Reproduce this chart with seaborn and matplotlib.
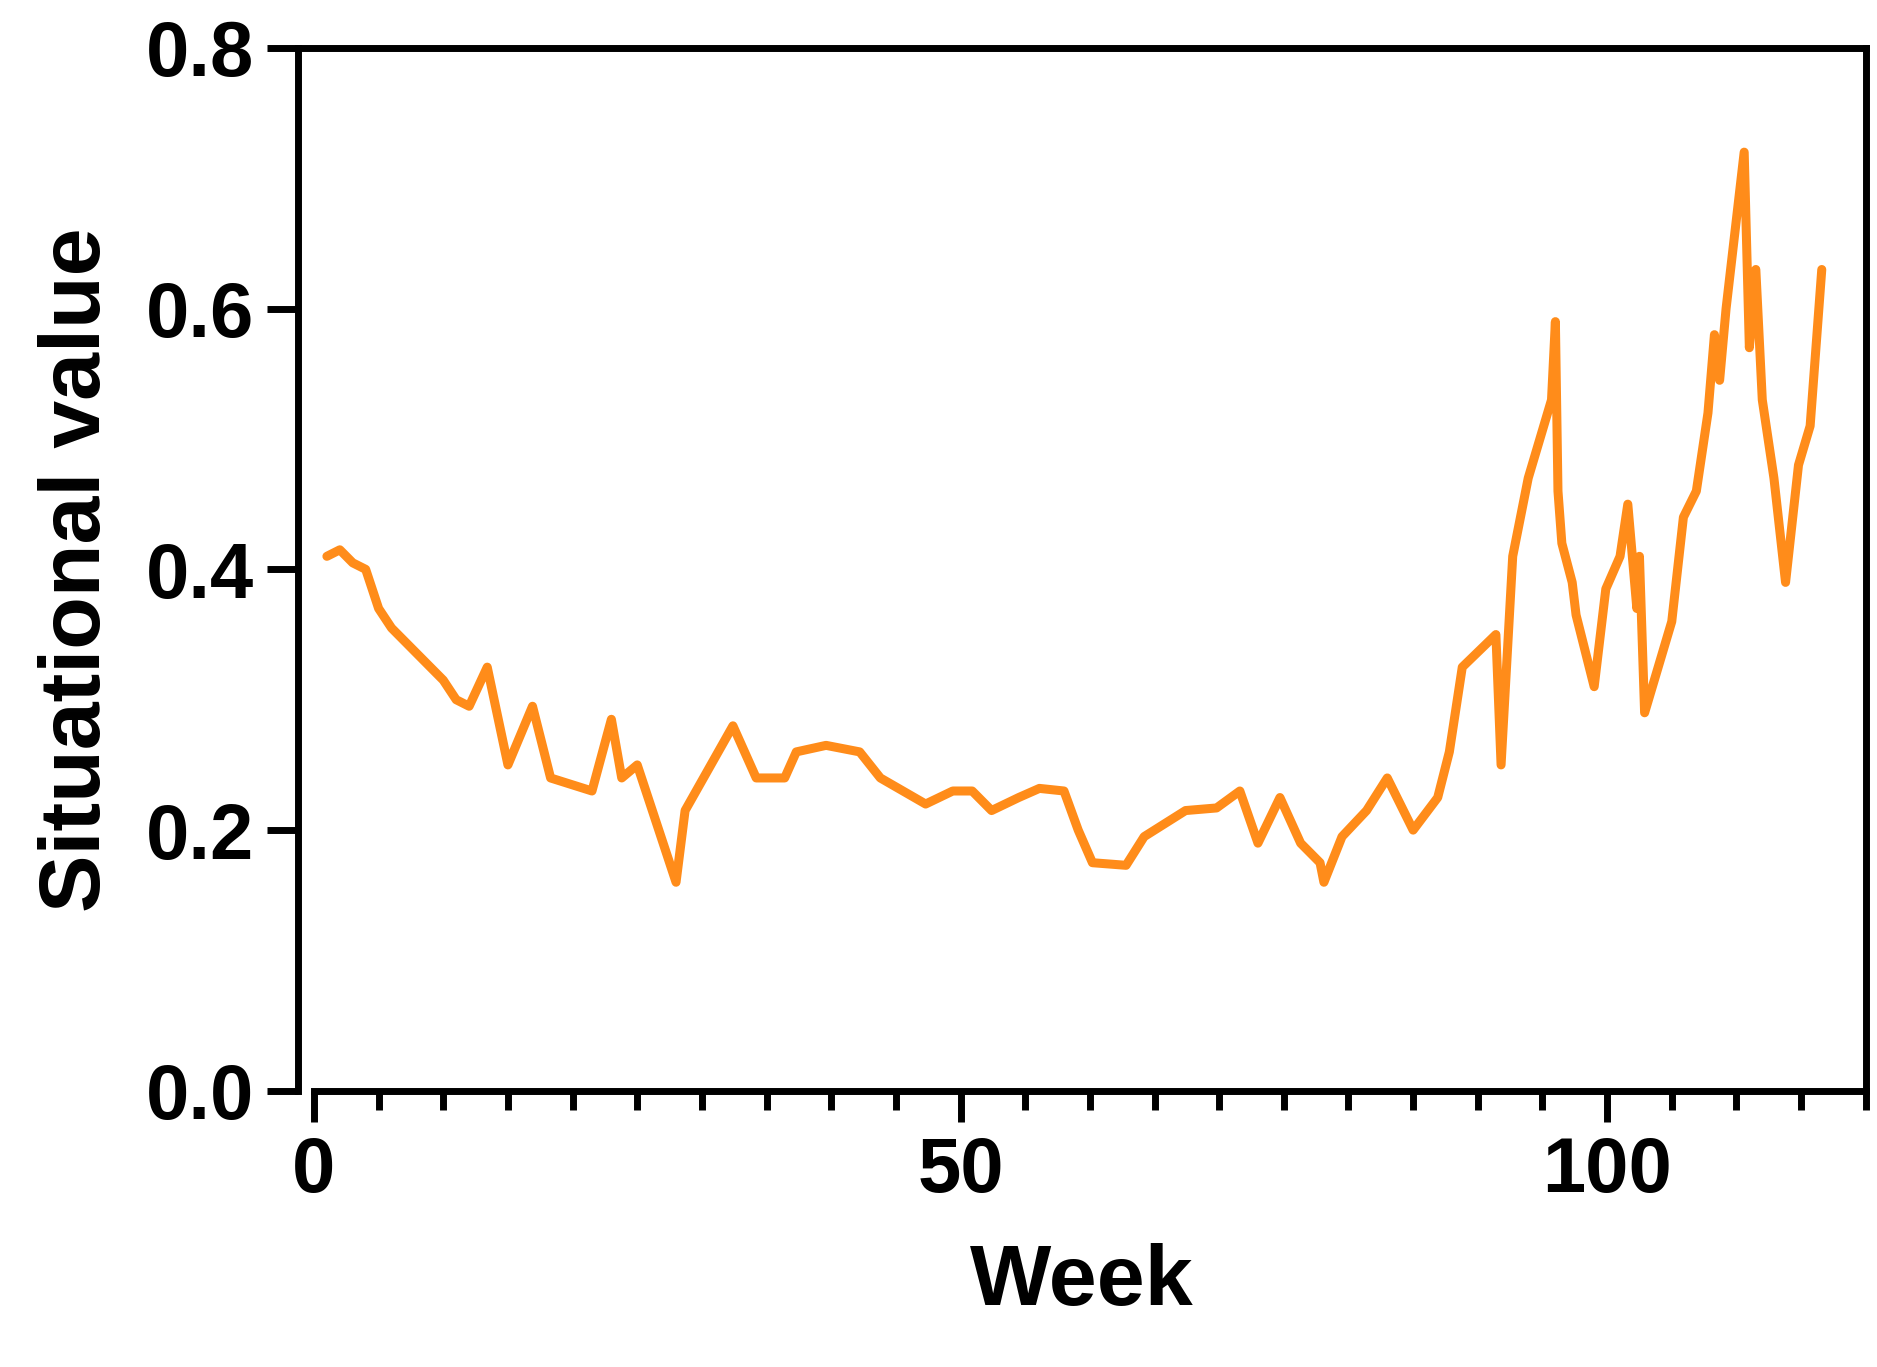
import matplotlib
matplotlib.use("Agg")
import matplotlib.pyplot as plt
import seaborn as sns
import pandas as pd
from matplotlib.ticker import MultipleLocator

week = [1,2,3,4,5,6,7,8,9,10,11,12,13.4,15,16.9,18.3,21.5,23,23.8,25,28,28.7,32.4,34.2,36.4,37.3,39.6,42.2,43.8,47.3,49.4,50.9,52.4,54.5,56.1,58,59.1,60.2,62.8,64.2,67.4,69.8,71.6,73,74.7,76.3,77.8,78.1,79.5,81.4,83,85,86.9,87.8,88.8,91.4,91.8,92.7,93.9,95.7,96,96.2,96.5,97.3,97.6,99,99.9,101,101.6,102.3,102.5,102.9,105,105.9,106.9,107.8,108.3,108.7,109.2,110.6,111,111.5,112,112.9,113.8,114.8,115.7,116.6]
value = [0.41,0.415,0.405,0.40,0.37,0.355,0.345,0.335,0.325,0.315,0.30,0.295,0.325,0.25,0.295,0.24,0.23,0.285,0.24,0.25,0.16,0.215,0.28,0.24,0.24,0.26,0.265,0.26,0.24,0.22,0.23,0.23,0.215,0.225,0.232,0.23,0.2,0.175,0.173,0.195,0.215,0.217,0.23,0.19,0.225,0.19,0.175,0.16,0.195,0.215,0.24,0.2,0.225,0.26,0.325,0.35,0.25,0.41,0.47,0.53,0.59,0.46,0.42,0.39,0.365,0.31,0.385,0.41,0.45,0.37,0.41,0.29,0.36,0.44,0.46,0.52,0.58,0.545,0.6,0.72,0.57,0.63,0.53,0.47,0.39,0.48,0.51,0.63]

df = pd.DataFrame({"Week": week, "Situational value": value})
sns.set_style("ticks")
plt.rcParams['font.family'] = ['Liberation Sans', 'DejaVu Sans']
plt.rcParams['text.color'] = 'black'
plt.rcParams['axes.labelcolor'] = 'black'
plt.rcParams['xtick.color'] = 'black'
plt.rcParams['ytick.color'] = 'black'
fig = plt.figure(figsize=(18.77, 13.67), dpi=100)
ax = fig.add_axes([0.159, 0.202, 0.835, 0.763])
sns.lineplot(data=df, x="Week", y="Situational value", color="#FF8C1A", linewidth=6.5, ax=ax, sort=False)
ax.set_xlim(-1.2, 120)
ax.set_ylim(0, 0.8)
ax.xaxis.set_major_locator(MultipleLocator(50))
ax.xaxis.set_minor_locator(MultipleLocator(5))
ax.yaxis.set_major_locator(MultipleLocator(0.2))
ax.yaxis.set_major_formatter(matplotlib.ticker.FormatStrFormatter('%.1f'))
for s in ax.spines.values():
    s.set_linewidth(5); s.set_color('black')
ax.spines['bottom'].set_bounds(0, 120)
ax.tick_params(axis='both', which='major', length=22, width=5, labelsize=56, pad=10)
ax.tick_params(axis='x', which='minor', length=14, width=5)
for t in ax.get_xticklabels() + ax.get_yticklabels():
    t.set_fontweight('bold')
ax.set_xlabel("Week", fontsize=62, fontweight='bold', labelpad=25)
ax.set_ylabel("Situational value", fontsize=62, fontweight='bold', labelpad=20)
fig.savefig("out.png", dpi=100)
